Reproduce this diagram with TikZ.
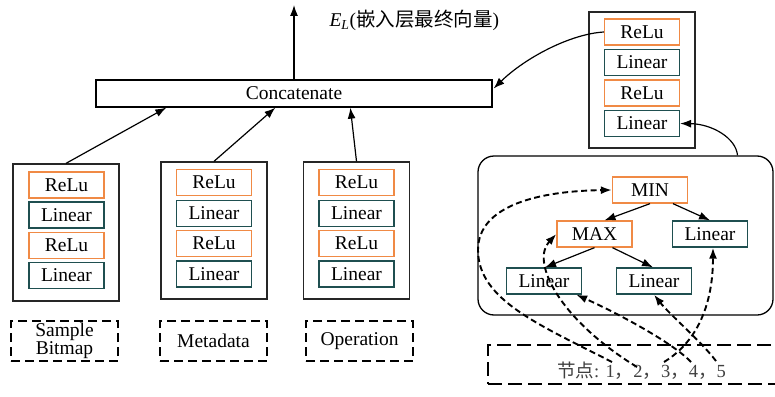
\documentclass[tikz,border=0pt]{standalone}
\usepackage{fontspec}
\setmainfont{Liberation Serif}
\newfontfamily\cjk{Noto Sans CJK SC}
\usetikzlibrary{arrows.meta,calc}
\definecolor{ora}{HTML}{F08A45}
\definecolor{tea}{HTML}{1F4F50}
\begin{document}
\begin{tikzpicture}[x=1pt,y=-1pt,
  font=\fontsize{19.5}{20}\selectfont,
  relu/.style={draw=ora, line width=1.3pt, minimum width=75pt, minimum height=26pt, inner sep=0pt},
  lin/.style={draw=tea, line width=1.3pt, minimum width=75pt, minimum height=26pt, inner sep=0pt},
  outer/.style={draw=black!85, line width=1.3pt, minimum width=106pt, minimum height=137pt, inner sep=0pt},
  dbox/.style={draw, line width=2.2pt, dash pattern=on 9pt off 5pt, minimum width=107pt, minimum height=40pt, inner sep=0pt, align=center},
  arr/.style={-{Latex[length=11pt,width=8pt]}, line width=1.2pt},
  darr/.style={arr, line width=1.9pt, dash pattern=on 6pt off 3.5pt}]
\useasboundingbox (0,0) rectangle (775,396);

% Concatenate and output
\node[draw, line width=1.3pt, minimum width=396pt, minimum height=27pt, inner sep=0pt] (concat) at (294,93.5) {Concatenate};
\coordinate (out) at (294,5);
\draw[arr] (concat.north) -- (out);
\node[anchor=west] (el) at (326,20) {\textit{E}\textsubscript{\textit{L}}(\cjk 嵌入层最终向量\rmfamily)};

% left stacks
\node[outer] (b1) at (66,232.5) {};
\node[relu] (b1a) at (66.5,185) {ReLu};
\node[lin]  (b1b) at (66.5,215) {Linear};
\node[relu] (b1c) at (66.5,245.5) {ReLu};
\node[lin]  (b1d) at (66.5,275.5) {Linear};

\node[outer] (b2) at (214,230.5) {};
\node[relu] (b2a) at (214,182.5) {ReLu};
\node[lin]  (b2b) at (214,213.5) {Linear};
\node[relu] (b2c) at (214,243.5) {ReLu};
\node[lin]  (b2d) at (214,274) {Linear};

\node[outer] (b3) at (356.5,230.5) {};
\node[relu] (b3a) at (356.5,182.5) {ReLu};
\node[lin]  (b3b) at (356.5,213.5) {Linear};
\node[relu] (b3c) at (356.5,243.5) {ReLu};
\node[lin]  (b3d) at (356.5,274) {Linear};

\draw[arr] (b1.north) -- ($(concat.south west)+(71,0)$);
\draw[arr] (b2.north) -- ($(concat.south west)+(180,0)$);
\draw[arr] (b3.north) -- ($(concat.south west)+(255,0)$);

% input boxes
\node[dbox, font=\fontsize{19.5}{18}\selectfont] (sb) at (64.5,341) {Sample\\Bitmap};
\node[dbox] (md) at (213.5,341) {Metadata};
\node[dbox] (op) at (359.5,341) {Operation};

% right top stack
\node[outer, minimum height=136pt] (rt) at (642,80) {};
\node[relu] (ra) at (642,32) {ReLu};
\node[lin]  (rb) at (642,62.5) {Linear};
\node[relu] (rc) at (642,93) {ReLu};
\node[lin]  (rd) at (642,123.5) {Linear};
\draw[arr] (ra.west) .. controls (570,34) and (525,58) .. ($(concat.east)+(1,-5)$);

% rounded tree box
\node[draw, line width=1.3pt, rounded corners=16pt, minimum width=295pt, minimum height=159pt, inner sep=0pt] (rbox) at (625.5,235.5) {};
\draw[arr] ($(rbox.north)+(112,0)$) .. controls (736,138) and (712,124) .. (rd.east);

\node[relu] (mn) at (650,190) {MIN};
\node[relu] (mx) at (594.5,234) {MAX};
\node[lin]  (lr1) at (710,234) {Linear};
\node[lin]  (l1) at (544,281) {Linear};
\node[lin]  (l2) at (654,281) {Linear};
\draw[arr] (mn.south) -- ($(mx.north)+(10,0)$);
\draw[arr] ($(mn.south)+(23,0)$) -- (lr1.north);
\draw[arr] ($(mx.south)+(0,0)$) -- ($(l1.north)+(1,0)$);
\draw[arr] ($(mx.south)+(18,0)$) -- ($(l2.north)+(-1,0)$);

% node list
\node[draw, line width=2.2pt, dash pattern=on 14pt off 6pt, minimum width=292pt, minimum height=39pt, inner sep=0pt] (nl) at (634,364.5) {};
\node[anchor=west, text=black!75, inner sep=0pt, font=\fontsize{18.5}{20}\selectfont] (lbl) at (557,371) {{\cjk 节点}: 1{\cjk ，}2{\cjk ，}3{\cjk ，}4{\cjk ，}5};
\coordinate (d1) at (612,362);
\coordinate (d2) at (637,367);
\coordinate (d3) at (664,362);
\coordinate (d4) at (691,362);
\coordinate (d5) at (716,361);

\draw[darr] (d1) .. controls (540,325) and (478,300) .. (478,250) .. controls (478,205) and (540,191) .. (mn.west);
\draw[darr] (d2) .. controls (560,320) and (530,262) .. (mx.west);
\draw[darr] (d3) .. controls (700,340) and (713,300) .. ($(lr1.south)+(3,0)$);
\draw[darr] (d4) .. controls (672,342) and (615,312) .. ($(l1.south east)+(-6,0)$);
\draw[darr] (d5) .. controls (700,340) and (670,315) .. (l2.south);
\end{tikzpicture}
\end{document}
